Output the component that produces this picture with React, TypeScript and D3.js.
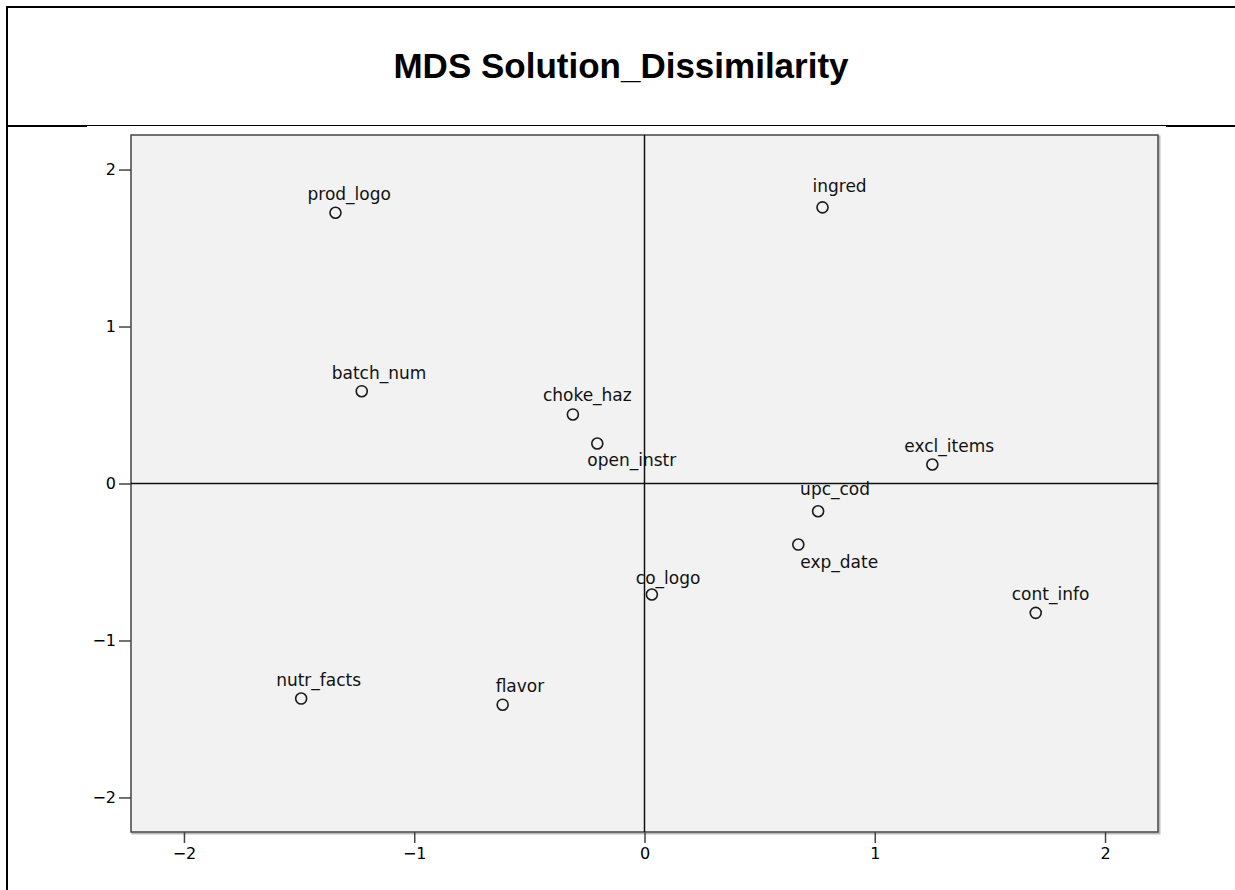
import { useEffect, useRef } from 'react'
import * as d3 from 'd3'

const WIDTH = 1235
const HEIGHT = 890
const PLOT = { left: 131, top: 135, right: 1158, bottom: 832 }

const TITLE = 'MDS Solution_Dissimilarity'

// stimulus coordinates (dimension 1, dimension 2)
const labels = [
  'prod_logo', 'ingred', 'batch_num', 'choke_haz', 'open_instr', 'excl_items',
  'upc_cod', 'exp_date', 'co_logo', 'cont_info', 'nutr_facts', 'flavor',
]
const dim1 = [-1.342, 0.773, -1.228, -0.311, -0.205, 1.25, 0.754, 0.668, 0.032, 1.699, -1.491, -0.616]
const dim2 = [1.725, 1.759, 0.588, 0.44, 0.255, 0.121, -0.177, -0.389, -0.707, -0.824, -1.37, -1.409]

const xTicks = [-2, -1, 0, 1, 2]
const yTicks = [-2, -1, 0, 1, 2]
const xDomain = [-2.23, 2.23]
const yDomain = [-2.22, 2.22]

// label placement relative to each marker (px): start offset, baseline offset
const labelOffset: [number, number][] = [
  [-28, -13], [-10, -15], [-30, -12], [-30, -13], [-10, 23], [-28, -13],
  [-18, -16], [2, 23], [-16, -10], [-24, -13], [-25, -13], [-7, -13],
]

const FONT = '"DejaVu Sans", Verdana, sans-serif'

export default function App() {
  const svgRef = useRef<SVGSVGElement>(null)

  useEffect(() => {
    const svgEl = svgRef.current
    if (!svgEl) return
    const svg = d3.select(svgEl)
    svg.selectAll('*').remove()

    const x = d3.scaleLinear(xDomain, [PLOT.left, PLOT.right])
    const y = d3.scaleLinear(yDomain, [PLOT.bottom, PLOT.top])

    // ── Outer frame + title ────────────────────────────────────────────────
    svg.append('rect').attr('width', WIDTH).attr('height', HEIGHT).attr('fill', '#fff')
    svg.append('line').attr('x1', 7).attr('x2', WIDTH).attr('y1', 7).attr('y2', 7)
      .attr('stroke', '#000').attr('stroke-width', 2)
    svg.append('line').attr('x1', 7).attr('x2', 7).attr('y1', 6).attr('y2', HEIGHT)
      .attr('stroke', '#000').attr('stroke-width', 2)
    svg.append('line').attr('x1', 7).attr('x2', WIDTH).attr('y1', 125.5).attr('y2', 125.5)
      .attr('stroke', '#000').attr('stroke-width', 1)
    svg.append('line').attr('x1', 7).attr('x2', 87).attr('y1', 126).attr('y2', 126)
      .attr('stroke', '#000').attr('stroke-width', 2)
    svg.append('line').attr('x1', 1166).attr('x2', WIDTH).attr('y1', 126).attr('y2', 126)
      .attr('stroke', '#000').attr('stroke-width', 2)

    svg.append('text')
      .attr('x', 621).attr('y', 78)
      .attr('text-anchor', 'middle')
      .attr('font-family', 'Arial, "Liberation Sans", sans-serif')
      .attr('font-weight', 'bold').attr('font-size', 35).attr('fill', '#000')
      .text(TITLE)

    // ── Plot area ──────────────────────────────────────────────────────────
    svg.append('rect')
      .attr('x', PLOT.left + 1.5).attr('y', PLOT.top + 1.5)
      .attr('width', PLOT.right - PLOT.left).attr('height', PLOT.bottom - PLOT.top)
      .attr('fill', 'none').attr('stroke', '#bbb').attr('stroke-width', 2)
    svg.append('rect')
      .attr('x', PLOT.left).attr('y', PLOT.top)
      .attr('width', PLOT.right - PLOT.left).attr('height', PLOT.bottom - PLOT.top)
      .attr('fill', '#f2f2f2').attr('stroke', '#444').attr('stroke-width', 1.5)

    // zero reference lines
    svg.append('line')
      .attr('x1', x(0)).attr('x2', x(0)).attr('y1', PLOT.top).attr('y2', PLOT.bottom)
      .attr('stroke', '#111').attr('stroke-width', 1.5)
    svg.append('line')
      .attr('x1', PLOT.left).attr('x2', PLOT.right).attr('y1', y(0)).attr('y2', y(0))
      .attr('stroke', '#111').attr('stroke-width', 1.5)

    // ── Axes ───────────────────────────────────────────────────────────────
    svg.append('g')
      .attr('transform', `translate(0,${PLOT.bottom})`)
      .call(d3.axisBottom(x).tickValues(xTicks).tickSize(11).tickPadding(5).tickFormat(d3.format('d')))
      .call(ag => ag.select('.domain').remove())
      .call(ag => ag.selectAll('.tick line').attr('stroke', '#444').attr('stroke-width', 1.5))
      .call(ag => ag.selectAll('text').attr('fill', '#000').attr('font-size', 16).attr('font-family', FONT))

    svg.append('g')
      .attr('transform', `translate(${PLOT.left},0)`)
      .call(d3.axisLeft(y).tickValues(yTicks).tickSize(12).tickPadding(3).tickFormat(d3.format('d')))
      .call(ag => ag.select('.domain').remove())
      .call(ag => ag.selectAll('.tick line').attr('stroke', '#444').attr('stroke-width', 1.5))
      .call(ag => ag.selectAll('text').attr('fill', '#000').attr('font-size', 16).attr('font-family', FONT))

    // ── Points + labels ────────────────────────────────────────────────────
    const pts = svg.append('g')
    labels.forEach((label, i) => {
      const px = x(dim1[i])
      const py = y(dim2[i])
      pts.append('circle')
        .attr('cx', px).attr('cy', py).attr('r', 5.5)
        .attr('fill', 'none').attr('stroke', '#1a1a1a').attr('stroke-width', 1.6)
      pts.append('text')
        .attr('x', px + labelOffset[i][0]).attr('y', py + labelOffset[i][1])
        .attr('font-family', FONT).attr('font-size', 17).attr('fill', '#111')
        .text(label)
    })
  }, [])

  return (
    <div style={{ position: 'absolute', left: 0, top: 0, width: WIDTH, height: HEIGHT }}>
      <svg ref={svgRef} width={WIDTH} height={HEIGHT} style={{ display: 'block' }} />
    </div>
  )
}
